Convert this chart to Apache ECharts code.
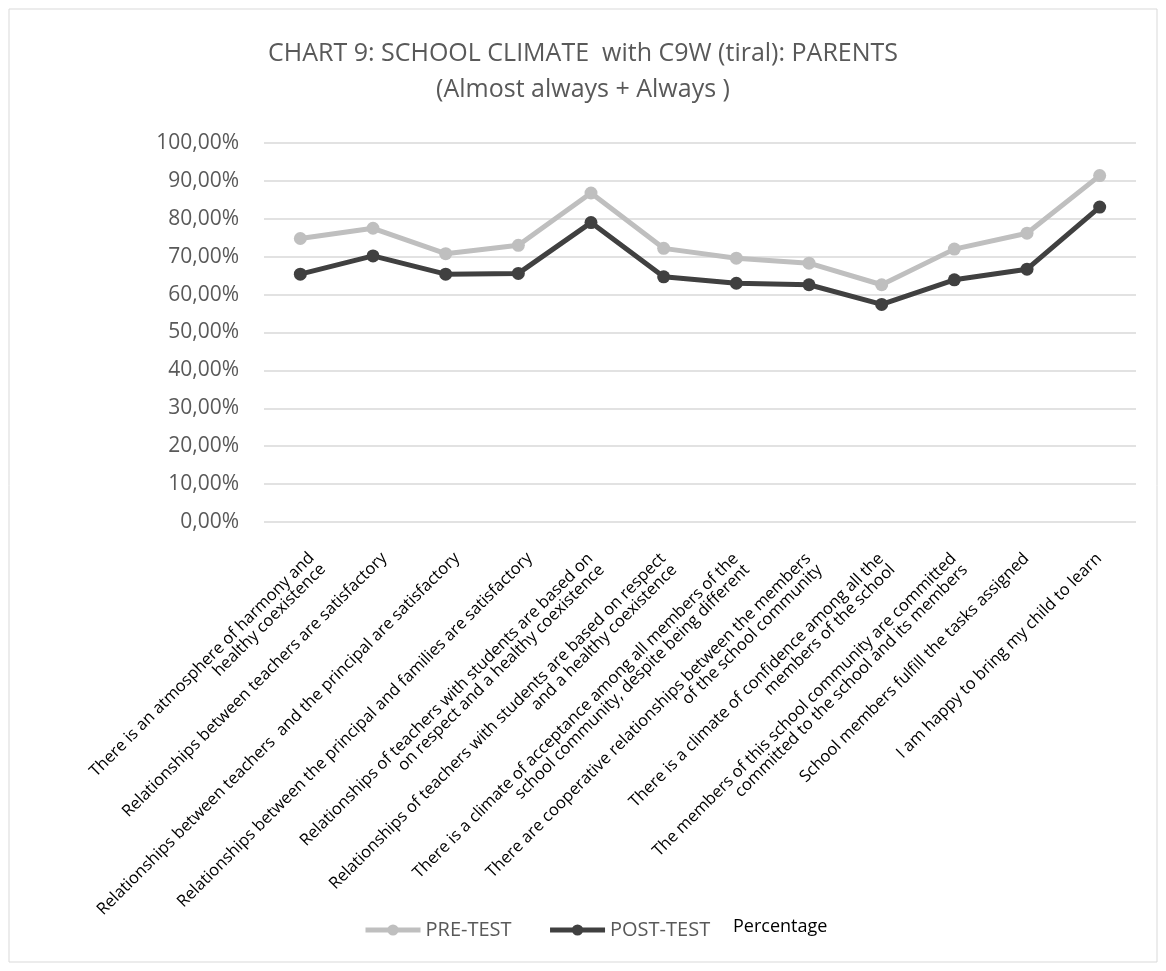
<!DOCTYPE html>
<html>
<head>
<meta charset="utf-8">
<style>
    html, body {
        margin: 0;
        padding: 0;
        overflow: hidden;
        background: #fff;
    }
</style>
</head>
<body>
<div id="chart" style="width:1166px; height:971px;"></div>
<script src="https://cdn.jsdelivr.net/npm/echarts@6/dist/echarts.min.js"></script>
<script>
    // chart values (percent)
    var categories = [
        'There is an atmosphere of harmony and\nhealthy coexistence',
        'Relationships between teachers are satisfactory',
        'Relationships between teachers  and the principal are satisfactory',
        'Relationships between the principal and families are satisfactory',
        'Relationships of teachers with students are based on\non respect and a healthy coexistence',
        'Relationships of teachers with students are based on respect\nand a healthy coexistence',
        'There is a climate of acceptance among all members of the\nschool community, despite being different',
        'There are cooperative relationships between the members\nof the school community',
        'There is a climate of confidence among all the\nmembers of the school',
        'The members of this school community are committed\ncommitted to the school and its members',
        'School members fulfill the tasks assigned',
        'I am happy to bring my child to learn'
    ];
    var preTest = [74.8, 77.5, 70.8, 73.0, 86.8, 72.2, 69.6, 68.3, 62.6, 72.0, 76.2, 91.4];
    var postTest = [65.4, 70.2, 65.4, 65.6, 79.0, 64.7, 63.0, 62.6, 57.4, 63.9, 66.7, 83.1];

    var chart = echarts.init(document.getElementById('chart'), null, {renderer: 'canvas'});

    // the first four labels sit a little further right (kept inside the chart box)
    function labelFormatter(value, idx) {
        var shifted = idx < 4;
        var lines = value.split('\n').map(function (line) {
            return '{' + (shifted ? 'c' : 'n') + '|' + line + '}';
        });
        if (shifted) {
            lines.unshift('{g| }');
        }
        return lines.join('\n');
    }

    var option = {
        backgroundColor: '#fff',
        animation: false,
        title: {
            text: 'CHART 9: SCHOOL CLIMATE  with C9W (tiral): PARENTS\n(Almost always + Always )',
            left: 'center',
            top: 31,
            textStyle: {
                fontFamily: 'Open Sans',
                fontSize: 25,
                fontWeight: 'normal',
                color: '#595959',
                lineHeight: 36
            }
        },
        legend: {
            left: 358,
            top: 915,
            itemWidth: 55,
            itemHeight: 14,
            itemGap: 36,
            textStyle: {
                fontFamily: 'Open Sans',
                fontSize: 20,
                color: '#595959'
            },
            lineStyle: {width: 5},
            data: ['PRE-TEST', 'POST-TEST']
        },
        graphic: [
            {
                type: 'rect',
                shape: {x: 9, y: 9, width: 1148, height: 953},
                style: {fill: 'none', stroke: '#d9d9d9', lineWidth: 1}
            },
            {
                type: 'text',
                left: 733,
                top: 918,
                style: {
                    text: 'Percentage',
                    fontFamily: 'Open Sans',
                    fontSize: 18,
                    fill: '#000'
                }
            }
        ],
        grid: {
            left: 264,
            right: 30,
            top: 143,
            bottom: 449,
            containLabel: false
        },
        xAxis: {
            type: 'category',
            data: categories,
            boundaryGap: true,
            axisLine: {show: false},
            axisTick: {show: false},
            axisLabel: {
                interval: 0,
                rotate: 45,
                margin: 22,
                align: 'right',
                verticalAlign: 'top',
                fontFamily: 'Open Sans',
                fontSize: 16.5,
                lineHeight: 16,
                color: '#000',
                formatter: labelFormatter,
                rich: {
                    n: {padding: [0, 9, 0, 0], lineHeight: 16},
                    c: {lineHeight: 16},
                    g: {fontSize: 1, lineHeight: 8, height: 8}
                }
            }
        },
        yAxis: {
            type: 'value',
            min: 0,
            max: 100,
            interval: 10,
            axisLine: {show: false},
            axisTick: {show: false},
            splitLine: {lineStyle: {color: '#d9d9d9', width: 1.5}},
            axisLabel: {
                margin: 25,
                fontFamily: 'Open Sans',
                fontSize: 21,
                color: '#595959',
                formatter: function (v) {
                    return v.toFixed(2).replace('.', ',') + '%';
                }
            }
        },
        series: [
            {
                name: 'PRE-TEST',
                type: 'line',
                data: preTest,
                symbol: 'circle',
                symbolSize: 13,
                itemStyle: {color: '#bfbfbf'},
                lineStyle: {color: '#bfbfbf', width: 5}
            },
            {
                name: 'POST-TEST',
                type: 'line',
                data: postTest,
                symbol: 'circle',
                symbolSize: 13,
                itemStyle: {color: '#404040'},
                lineStyle: {color: '#404040', width: 5}
            }
        ]
    };

    chart.setOption(option);
</script>
</body>
</html>
